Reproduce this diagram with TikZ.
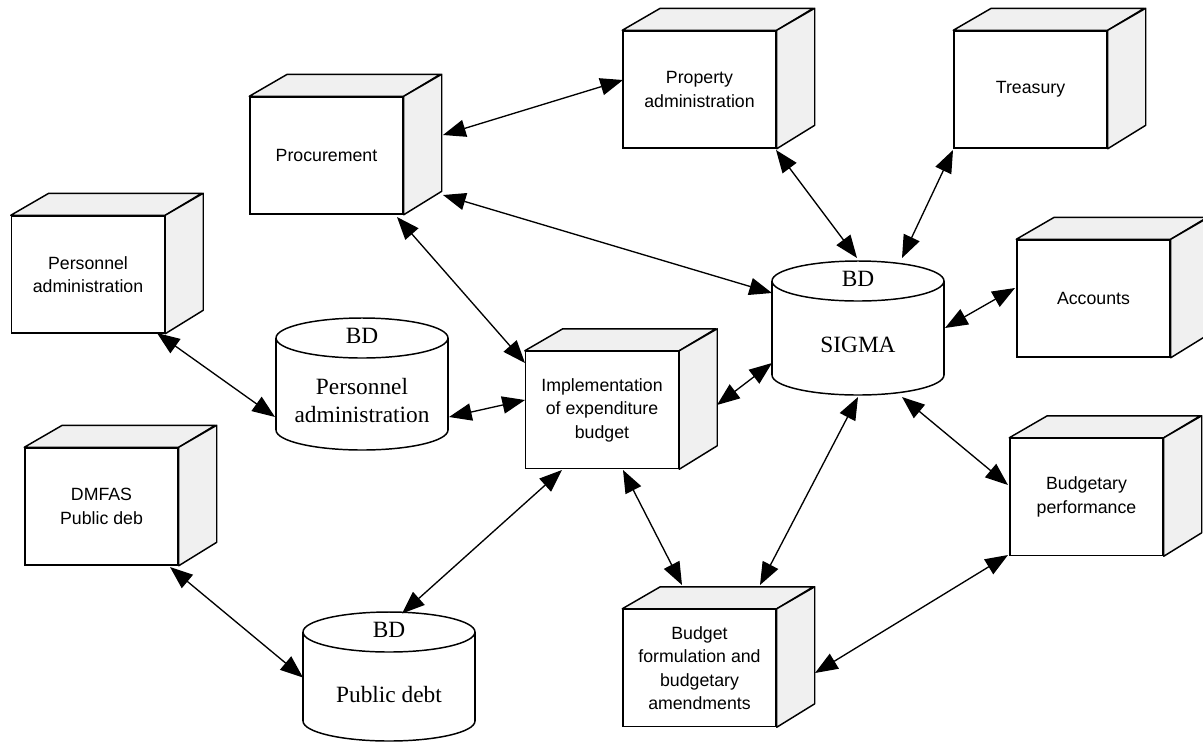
\documentclass[tikz,border=0pt]{standalone}
\usepackage{fontspec}
\setmainfont{Liberation Serif}
\newfontfamily\boxfont{Liberation Sans}
\usetikzlibrary{arrows.meta,calc}

\tikzset{
  frontface/.style={draw=black, fill=white, line width=1.1pt, minimum width=114.75pt,
    minimum height=87.75pt, inner sep=2pt, align=center,
    font=\boxfont\fontsize{13.3}{17.6}\selectfont},
  depthface/.style={draw=black, fill=gray!12, line width=1.1pt, line join=round},
  cylbody/.style={draw=black, fill=white, line width=1.1pt},
  cyltext/.style={align=center, font=\fontsize{17.5}{21}\selectfont, inner sep=0pt},
  biarrow/.style={line width=1pt, {Triangle[length=17pt,width=13pt]}-{Triangle[length=17pt,width=13pt]}}
}

% box with a shaded top and right side; #1 name, #2 centre, #3 label
\newcommand\cubebox[3]{%
  \node[frontface] (#1) at (#2) {#3};
  \path[depthface] (#1.north west) -- ++(38,-22) -- ++(153,0) -- (#1.north east) -- cycle;
  \path[depthface] (#1.north east) -- ++(38,-22) -- ++(0,117) -- (#1.south east) -- cycle;
}

% database drum; #1 name, #2 x centre, #3 top ellipse y, #4 bottom ellipse y, #5 label y, #6 label
\newcommand\drum[6]{%
  \path[cylbody] (#2,#4) ellipse [x radius=86, y radius=20];
  \fill[white] (#2-86,#3) rectangle (#2+86,#4);
  \draw[line width=1.1pt] (#2-86,#3) -- (#2-86,#4) (#2+86,#3) -- (#2+86,#4);
  \path[cylbody] (#2,#3) ellipse [x radius=86, y radius=20];
  \node[inner sep=0pt, minimum width=129pt, minimum height=100pt] (#1) at (#2,{(#3+#4)/2}) {};
  \node[cyltext] at (#2,#3-2) {BD};
  \node[cyltext] at (#2,#5) {#6};
}

\begin{document}
\begin{tikzpicture}[x=0.75pt, y=-0.75pt]
\useasboundingbox (0,0) rectangle (1203,744);

% application modules
\cubebox{proc}{326.5,155.5}{Procurement}
\cubebox{prop}{699.5,89.5}{Property\\administration}
\cubebox{treas}{1030.5,89.5}{Treasury}
\cubebox{accts}{1093.5,298.5}{Accounts}
\cubebox{pers}{88,274.5}{Personnel\\administration}
\cubebox{impl}{602,410}{Implementation\\of expenditure\\budget}
\cubebox{budperf}{1086.5,497}{Budgetary\\performance}
\cubebox{dmfas}{101.5,506.5}{DMFAS\\Public deb}
\cubebox{budform}{699.5,668}{Budget\\formulation and\\budgetary\\amendments}

% databases
\drum{sigma}{858}{281}{375}{345}{SIGMA}
\drum{perscyl}{362}{338}{430}{401}{Personnel\\administration}
\drum{debt}{389}{632}{721}{695}{Public debt}

% data exchanges
\draw[biarrow] ($(proc)+(116.5,-20.5)$) -- ($(prop)+(-76.5,-9.5)$);
\draw[biarrow] ($(proc)+(116.5,39.5)$) -- ($(sigma)+(-86,-35)$);
\draw[biarrow] ($(proc)+(70.5,61.5)$) -- ($(impl)+(-77,-47)$);
\draw[biarrow] ($(prop)+(76.5,60.5)$) -- ($(sigma)+(-1,-70)$);
\draw[biarrow] ($(treas)+(-77.5,60.5)$) -- ($(sigma)+(44,-70)$);
\draw[biarrow] ($(accts)+(-78.5,-10.5)$) -- ($(sigma)+(87,0)$);
\draw[biarrow] ($(pers)+(69,58.5)$) -- ($(perscyl)+(-87,33)$);
\draw[biarrow] ($(perscyl)+(87,33)$) -- ($(impl)+(-77,-10)$);
\draw[biarrow] ($(impl)+(115,-5)$) -- ($(sigma)+(-86,35)$);
\draw[biarrow] ($(impl)+(-40,60)$) -- ($(debt)+(13,-63)$);
\draw[biarrow] ($(impl)+(21,60)$) -- ($(budform)+(-17.5,-83)$);
\draw[biarrow] ($(sigma)+(0,69)$) -- ($(budform)+(60.5,-83)$);
\draw[biarrow] ($(sigma)+(44,69)$) -- ($(budperf)+(-78.5,-12)$);
\draw[biarrow] ($(budperf)+(-78.5,58)$) -- ($(budform)+(115.5,5)$);
\draw[biarrow] ($(dmfas)+(68.5,60.5)$) -- ($(debt)+(-86,1)$);
\end{tikzpicture}
\end{document}
